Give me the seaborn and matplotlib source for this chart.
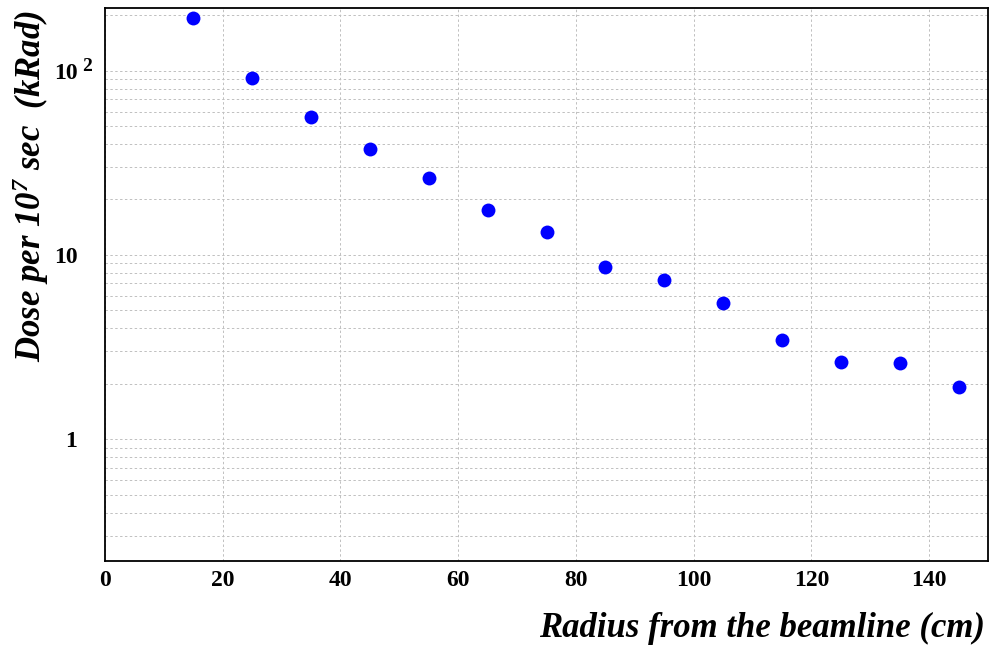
import matplotlib
matplotlib.use("Agg")
import matplotlib.pyplot as plt
import matplotlib.ticker as mticker
import matplotlib.transforms as mtransforms
import seaborn as sns
import numpy as np

# dose vs radius
radius = [15, 25, 35, 45, 55, 65, 75, 85, 95, 105, 115, 125, 135, 145]
dose = [193, 91, 56, 37.6, 26.1, 17.6, 13.3, 8.6, 7.3, 5.5, 3.46, 2.64, 2.59, 1.92]

ytick_vals = [1, 10, 100]
ytick_text = ['1', '10', '10']

sns.set_style("white")
plt.rcParams['font.family'] = ['Liberation Serif', 'DejaVu Serif']
plt.rcParams['text.color'] = 'black'
plt.rcParams['axes.labelcolor'] = 'black'
plt.rcParams['xtick.color'] = 'black'
plt.rcParams['ytick.color'] = 'black'
plt.rcParams['mathtext.fontset'] = 'custom'
plt.rcParams['mathtext.rm'] = 'Liberation Serif:italic:bold'
plt.rcParams['mathtext.it'] = 'Liberation Serif:italic:bold'

fig = plt.figure(figsize=(9.89, 6.46), dpi=100)
ax = fig.add_axes([0.1062, 0.132, 0.8928, 0.8556])

sns.scatterplot(x=radius, y=dose, color='#0000ff', s=100, linewidth=0, ax=ax, zorder=3)

ax.set_yscale('log')
ax.set_xlim(0, 150)
ax.set_ylim(0.219, 218.8)

ax.xaxis.set_major_locator(mticker.MultipleLocator(20))
ax.xaxis.set_minor_locator(mticker.MultipleLocator(5))
ax.yaxis.set_major_locator(mticker.FixedLocator(ytick_vals))
ax.yaxis.set_minor_locator(mticker.LogLocator(base=10, subs=np.arange(2, 10)))
ax.yaxis.set_minor_formatter(mticker.NullFormatter())
ax.set_yticks(ytick_vals)
ax.set_yticklabels(ytick_text)

grid_kw = dict(color='#c0c0c0', linestyle=(0, (2.5, 2.5)), linewidth=0.7)
ax.grid(True, which='major', axis='x', **grid_kw)
ax.grid(True, which='both', axis='y', **grid_kw)

ax.tick_params(axis='both', which='both', direction='in', color='#555555',
               labelcolor='black', top=False, right=False)
ax.tick_params(axis='x', which='major', length=10, width=1, pad=7)
ax.tick_params(axis='x', which='minor', length=5, width=0.8)
ax.tick_params(axis='y', which='major', length=9, width=1, pad=20)
ax.tick_params(axis='y', which='minor', length=4, width=0.8)
for lab in ax.get_xticklabels() + ax.get_yticklabels():
    lab.set_fontsize(17)
    lab.set_fontweight('bold')

# superscript of the 10^2 label
trans = mtransforms.blended_transform_factory(ax.transAxes, ax.transData)
ax.text(-0.026, 99, '2', transform=trans, fontsize=14, fontweight='bold',
        ha='left', va='baseline')

for sp in ax.spines.values():
    sp.set_visible(True)
    sp.set_color('black')
    sp.set_linewidth(1.3)

ax.set_xlabel('Radius from the beamline (cm)', loc='right', fontsize=25,
              fontweight='bold', fontstyle='italic')
ax.xaxis.set_label_coords(0.997, -0.093)
ax.set_ylabel('Dose per $10^{7}$ sec  (kRad)', loc='top', fontsize=25,
              fontweight='bold', fontstyle='italic')
ax.yaxis.set_label_coords(-0.061, 0.997)

fig.savefig('out.png', dpi=100)
